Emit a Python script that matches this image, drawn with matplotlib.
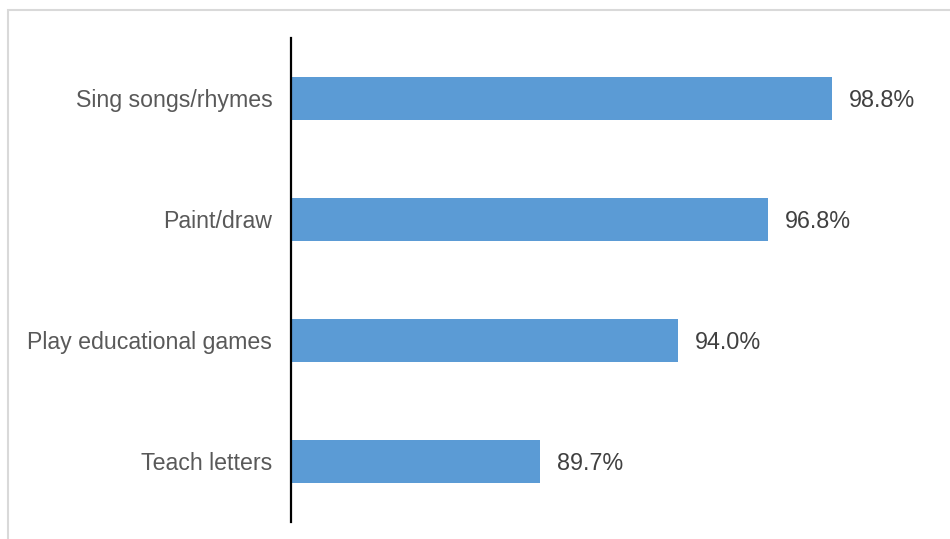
import matplotlib.pyplot as plt
from matplotlib.patches import Rectangle

# 데이터
categories = ['Sing songs/rhymes', 'Paint/draw', 'Play educational games', 'Teach letters']
values = [98.8, 96.8, 94.0, 89.7]
labels = ['98.8%', '96.8%', '94.0%', '89.7%']

plt.rcParams['font.family'] = ['Liberation Sans', 'DejaVu Sans']

W, H = 950, 539
fig = plt.figure(figsize=(W / 100, H / 100), dpi=100)
fig.patch.set_facecolor('white')

# 바깥 테두리 (오른쪽/아래는 잘림)
fig.patches.append(Rectangle((8 / W, -0.1), 1.2, 1.1 - 10 / H,
                             transform=fig.transFigure, fill=False,
                             edgecolor='#D9D9D9', linewidth=1.5))

ax = fig.add_axes([291 / W, 17 / H, (870.5 - 291) / W, (522 - 38) / H])
y = list(range(len(categories)))
ax.barh(y, values, height=0.35, color='#5B9BD5', left=0)
ax.set_xlim(81.94, 100)
ax.set_ylim(3.5, -0.5)

for yi, v, lab in zip(y, values, labels):
    ax.annotate(lab, (v, yi), xytext=(12, -1.2), textcoords='offset points',
                va='center', ha='left', fontsize=16.8, color='#404040',
                annotation_clip=False)

ax.set_yticks(y)
ax.set_yticklabels(categories, fontsize=16.7, color='#595959')
ax.tick_params(axis='y', length=0, pad=13.5)
ax.set_xticks([])
for s in ['top', 'right', 'bottom']:
    ax.spines[s].set_visible(False)
ax.spines['left'].set_linewidth(1.6)
ax.spines['left'].set_color('black')
ax.patch.set_alpha(0)

fig.savefig('out.png', dpi=100)
